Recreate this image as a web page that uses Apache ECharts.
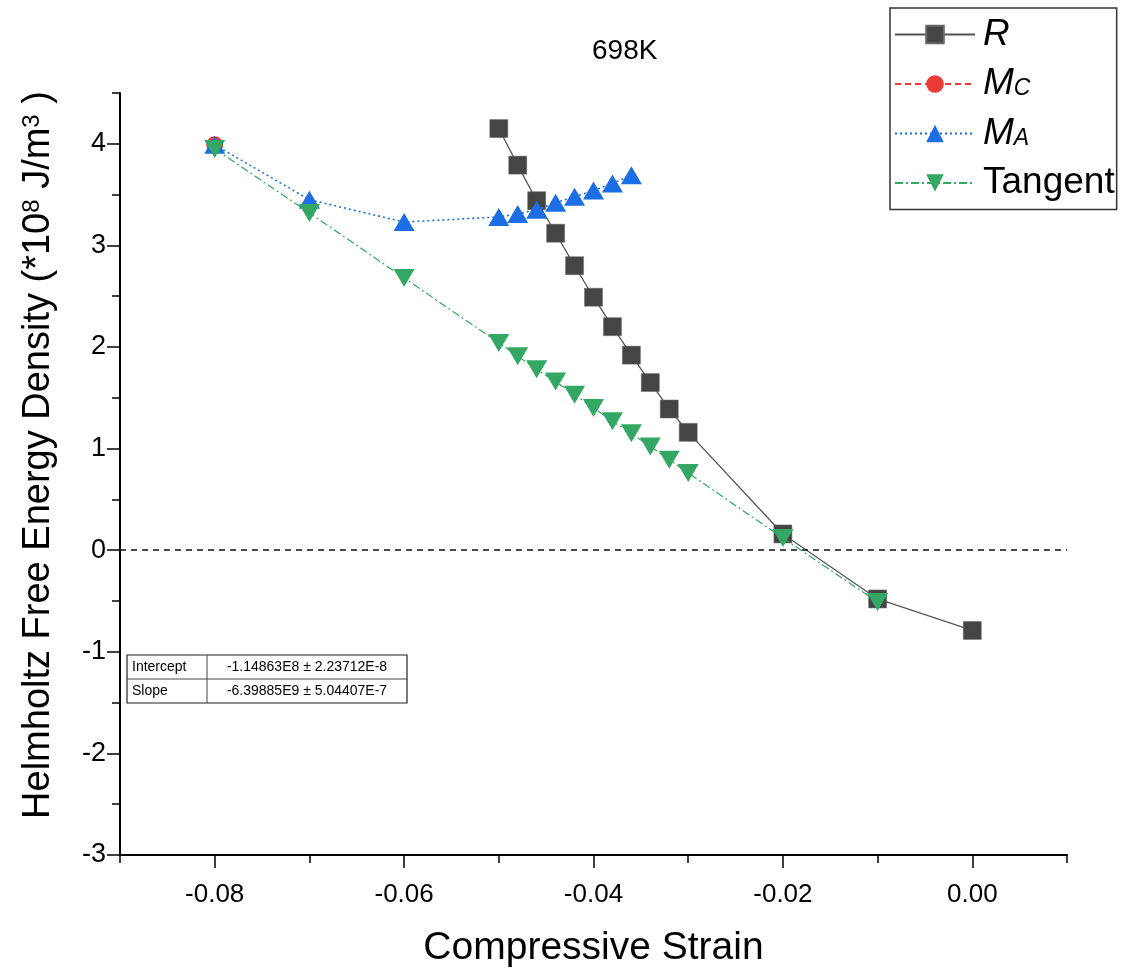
<!DOCTYPE html>
<html>
<head>
<meta charset="utf-8">
<script src="https://cdn.jsdelivr.net/npm/echarts@6/dist/echarts.min.js"></script>
<style>
  html, body { margin: 0; padding: 0; background: #fff; }
  #chart { width: 1124px; height: 977px; }
</style>
</head>
<body>
<div id="chart"></div>
<script>
// Données (énergie en 1e8 J/m3)
const strainR = [-0.05, -0.048, -0.046, -0.044, -0.042, -0.04, -0.038, -0.036, -0.034, -0.032, -0.03, -0.02, -0.01, 0];
const energyR = [4.15, 3.79, 3.44, 3.12, 2.80, 2.49, 2.20, 1.92, 1.65, 1.39, 1.16, 0.16, -0.48, -0.79];

const strainMC = [-0.08];
const energyMC = [3.99];

const strainMA = [-0.08, -0.07, -0.06, -0.05, -0.048, -0.046, -0.044, -0.042, -0.04, -0.038, -0.036];
const energyMA = [3.99, 3.45, 3.23, 3.28, 3.31, 3.35, 3.42, 3.48, 3.54, 3.61, 3.69];

const strainT = [-0.08, -0.07, -0.06, -0.05, -0.048, -0.046, -0.044, -0.042, -0.04, -0.038, -0.036, -0.034, -0.032, -0.03, -0.02, -0.01];
const energyT = [3.95, 3.32, 2.68, 2.04, 1.91, 1.78, 1.66, 1.53, 1.40, 1.27, 1.15, 1.02, 0.89, 0.76, 0.12, -0.51];

// Graduations
const xMajorTicks = [-0.08, -0.06, -0.04, -0.02, 0];
const yMajorTicks = [-3, -2, -1, 0, 1, 2, 3, 4];

// Tableau d'ajustement linéaire
const fitRows = [
    ['Intercept', '-1.14863E8 \u00b1 2.23712E-8'],
    ['Slope', '-6.39885E9 \u00b1 5.04407E-7']
];

const FONT = '"Liberation Sans", Arial, Helvetica, sans-serif';

function pairs(xs, ys) {
    return xs.map((x, i) => [x, ys[i]]);
}

function fitTable() {
    const x0 = 127, y0 = 655, w = 280, rowH = 24, col = 80;
    const items = [
        { type: 'rect', shape: { x: x0, y: y0, width: w, height: rowH * 2 }, style: { fill: '#fff', stroke: '#222', lineWidth: 1.2 } },
        { type: 'line', shape: { x1: x0, y1: y0 + rowH, x2: x0 + w, y2: y0 + rowH }, style: { stroke: '#444', lineWidth: 1 } },
        { type: 'line', shape: { x1: x0 + col, y1: y0, x2: x0 + col, y2: y0 + rowH * 2 }, style: { stroke: '#444', lineWidth: 1 } }
    ];
    fitRows.forEach((row, i) => {
        items.push({
            type: 'text', x: x0 + 5, y: y0 + rowH * i + rowH / 2,
            style: { text: row[0], font: '14px ' + FONT, fill: '#000', verticalAlign: 'middle' }
        });
        items.push({
            type: 'text', x: x0 + col + (w - col) / 2, y: y0 + rowH * i + rowH / 2,
            style: { text: row[1], font: '14px ' + FONT, fill: '#000', align: 'center', verticalAlign: 'middle' }
        });
    });
    return items;
}

function settings() {
    return {
        backgroundColor: '#fff',
        animation: false,
        title: {
            text: '698K',
            left: 587,
            top: 32,
            textStyle: { fontFamily: FONT, fontSize: 28, fontWeight: 'normal', color: '#000' }
        },
        legend: {
            orient: 'vertical',
            left: 890,
            top: 8,
            padding: [8, 2, 8, 4],
            itemWidth: 80,
            itemHeight: 22,
            itemGap: 12.5,
            borderColor: '#333',
            borderWidth: 1.5,
            data: ['R', 'MC', 'MA', 'Tangent'],
            formatter: function (name) {
                if (name === 'R') return '{i|R}';
                if (name === 'MC') return '{i|M}{s|C}';
                if (name === 'MA') return '{i|M}{s|A}';
                return '{n|Tangent}';
            },
            textStyle: {
                fontFamily: FONT,
                fontSize: 37,
                color: '#000',
                padding: [0, 0, 0, 3],
                rich: {
                    i: { fontStyle: 'italic', fontSize: 37, lineHeight: 33, fontFamily: FONT, color: '#000' },
                    n: { fontSize: 37, lineHeight: 33, fontFamily: FONT, color: '#000' },
                    s: { fontStyle: 'italic', fontSize: 23, lineHeight: 33, fontFamily: FONT, color: '#000', verticalAlign: 'bottom' }
                }
            }
        },
        grid: { left: 120, right: 57, top: 93, bottom: 122, containLabel: false },
        xAxis: [
            {
                type: 'value',
                min: -0.09,
                max: 0.01,
                interval: 0.01,
                position: 'bottom',
                name: 'Compressive Strain',
                nameLocation: 'middle',
                nameGap: 74,
                nameTextStyle: { fontFamily: FONT, fontSize: 39, color: '#000' },
                axisLine: { onZero: false, lineStyle: { color: '#000', width: 2 } },
                axisTick: { length: 8, lineStyle: { color: '#000', width: 1.5 } },
                axisLabel: {
                    margin: 27,
                    fontFamily: FONT,
                    fontSize: 26,
                    color: '#000',
                    formatter: function (v) {
                        const k = Math.round(v * 100);
                        return (k % 2 === 0 && k <= 0 && k >= -8) ? (k / 100).toFixed(2) : '';
                    }
                },
                splitLine: { show: false }
            },
            {
                type: 'value',
                min: -0.09,
                max: 0.01,
                position: 'bottom',
                axisLine: { show: false, onZero: false },
                axisTick: { length: 13, customValues: xMajorTicks, lineStyle: { color: '#000', width: 1.5 } },
                axisLabel: { show: false },
                splitLine: { show: false }
            }
        ],
        yAxis: [
            {
                type: 'value',
                min: -3,
                max: 4.5,
                interval: 0.5,
                position: 'left',
                name: '{t|Helmholtz Free Energy Density (*10}{p|8}{t| J/m}{p|3}{t| )}',
                nameLocation: 'middle',
                nameRotate: 90,
                nameGap: 62,
                nameTextStyle: {
                    fontFamily: FONT,
                    color: '#000',
                    padding: [0, 0, 0, 38],
                    rich: {
                        t: { fontFamily: FONT, fontSize: 38, color: '#000' },
                        p: { fontFamily: FONT, fontSize: 24, color: '#000', verticalAlign: 'top' }
                    }
                },
                axisLine: { onZero: false, lineStyle: { color: '#000', width: 2 } },
                axisTick: { length: 8, lineStyle: { color: '#000', width: 1.5 } },
                axisLabel: {
                    margin: 14,
                    fontFamily: FONT,
                    fontSize: 27,
                    color: '#000',
                    formatter: function (v) {
                        return Number.isInteger(v) ? String(v) : '';
                    }
                },
                splitLine: { show: false }
            },
            {
                type: 'value',
                min: -3,
                max: 4.5,
                position: 'left',
                axisLine: { show: false, onZero: false },
                axisTick: { length: 13, customValues: yMajorTicks, lineStyle: { color: '#000', width: 1.5 } },
                axisLabel: { show: false },
                splitLine: { show: false }
            }
        ],
        graphic: fitTable(),
        series: [
            {
                name: 'R',
                type: 'line',
                data: pairs(strainR, energyR),
                symbol: 'rect',
                symbolSize: 18,
                itemStyle: { color: '#454545', borderColor: '#666', borderWidth: 0.5 },
                lineStyle: { color: '#555', width: 1.3 },
                markLine: {
                    silent: true,
                    symbol: 'none',
                    label: { show: false },
                    lineStyle: { color: '#111', type: [6, 5], width: 1.5 },
                    data: [{ yAxis: 0 }]
                },
                z: 2
            },
            {
                name: 'MC',
                type: 'line',
                data: pairs(strainMC, energyMC),
                symbol: 'circle',
                symbolSize: 17,
                itemStyle: { color: '#ec3a36' },
                lineStyle: { color: '#ec3a36', type: [6, 4], width: 1.3 },
                z: 3
            },
            {
                name: 'MA',
                type: 'line',
                data: pairs(strainMA, energyMA),
                symbol: 'triangle',
                symbolSize: [21, 18],
                itemStyle: { color: '#1b6ee3' },
                lineStyle: { color: '#1b6ee3', type: [2, 3], width: 1.6 },
                z: 4
            },
            {
                name: 'Tangent',
                type: 'line',
                data: pairs(strainT, energyT),
                symbol: 'triangle',
                symbolRotate: 180,
                symbolSize: [21, 18],
                itemStyle: { color: '#33a763' },
                lineStyle: { color: '#33a763', type: [8, 3, 2, 3], width: 1.2 },
                z: 5
            }
        ]
    };
}

const chart = echarts.init(document.getElementById('chart'));
chart.setOption(settings());
</script>
</body>
</html>
